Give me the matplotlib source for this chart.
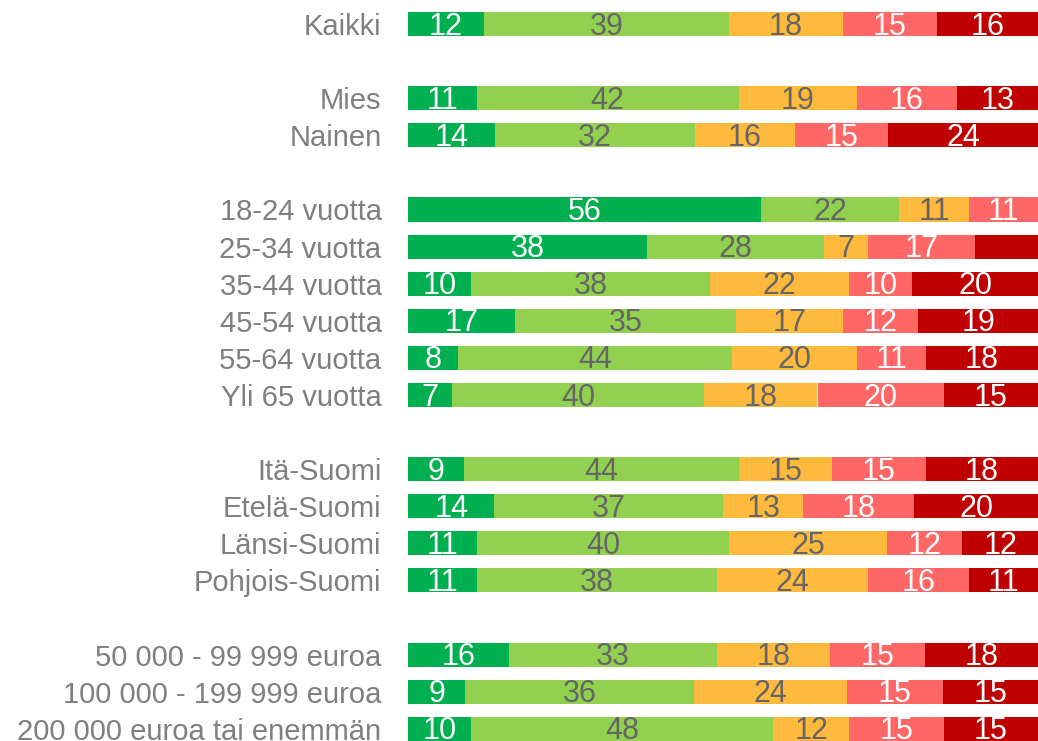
import numpy as np
import matplotlib.pyplot as plt
from matplotlib import font_manager

# rivit ylhäältä alas; None = tyhjä väli ryhmien välissä
rivit = ["Kaikki", None,
         "Mies", "Nainen", None,
         "18-24 vuotta", "25-34 vuotta", "35-44 vuotta", "45-54 vuotta",
         "55-64 vuotta", "Yli 65 vuotta", None,
         "Itä-Suomi", "Etelä-Suomi", "Länsi-Suomi", "Pohjois-Suomi", None,
         "50 000 - 99 999 euroa", "100 000 - 199 999 euroa",
         "200 000 euroa tai enemmän"]

tosi_hyva = [12, 11, 14, 56, 38, 10, 17, 8, 7, 9, 14, 11, 11, 16, 9, 10]
hyva = [39, 42, 32, 22, 28, 38, 35, 44, 40, 44, 37, 40, 38, 33, 36, 48]
neutraali = [18, 19, 16, 11, 7, 22, 17, 20, 18, 15, 13, 25, 24, 18, 24, 12]
huono = [15, 16, 15, 11, 17, 10, 12, 11, 20, 15, 18, 12, 16, 15, 15, 15]
tosi_huono = [16, 13, 24, 0, 10, 20, 19, 18, 15, 18, 20, 12, 11, 18, 15, 15]
# 25-34 vuotta: viimeisellä palalla ei lukua kuvassa
piilota = [(4, 4)]

sarjat = [tosi_hyva, hyva, neutraali, huono, tosi_huono]
varit = ["#00B050", "#92D050", "#FFBA3D", "#FF6666", "#C00000"]
tekstivarit = ["white", "#666666", "#666666", "white", "white"]

names = {f.name for f in font_manager.fontManager.ttflist}
kapea = "Liberation Sans Narrow" if "Liberation Sans Narrow" in names else "DejaVu Sans Condensed"

fig = plt.figure(figsize=(10.38, 7.41), dpi=100)
ax = fig.add_axes([408 / 1038, 0, 630 / 1038, 735.5 / 741])

y = np.array([i for i, r in enumerate(rivit) if r is not None])
nimet = [r for r in rivit if r is not None]

# pyöristetyt luvut eivät aina summaudu sataan -> skaalataan rivit täyteen leveyteen
summa = np.array(sarjat, dtype=float).sum(axis=0)

vasen = np.zeros(len(y))
for s, (arvot, vari, tv) in enumerate(zip(sarjat, varit, tekstivarit)):
    arvot = np.array(arvot, dtype=float)
    lev = arvot / summa * 100
    ax.barh(y, lev, left=vasen, height=0.65, color=vari, edgecolor="none")
    for i in range(len(y)):
        if arvot[i] > 0 and (i, s) not in piilota:
            ax.text(vasen[i] + lev[i] / 2, y[i] + 0.07, f"{arvot[i]:.0f}",
                    ha="center", va="center", color=tv, fontsize=22,
                    family=[kapea, "Liberation Sans", "DejaVu Sans"])
    vasen += lev

ax.set_xlim(0, 100)
ax.set_ylim(19.33, -0.5)
ax.set_yticks(y)
ax.set_yticklabels(nimet, fontsize=21, color="#7f7f7f", family="Liberation Sans")
ax.tick_params(axis="y", length=0, pad=19)
ax.set_xticks([])
for sp in ax.spines.values():
    sp.set_visible(False)

fig.savefig("out.png", dpi=100)
